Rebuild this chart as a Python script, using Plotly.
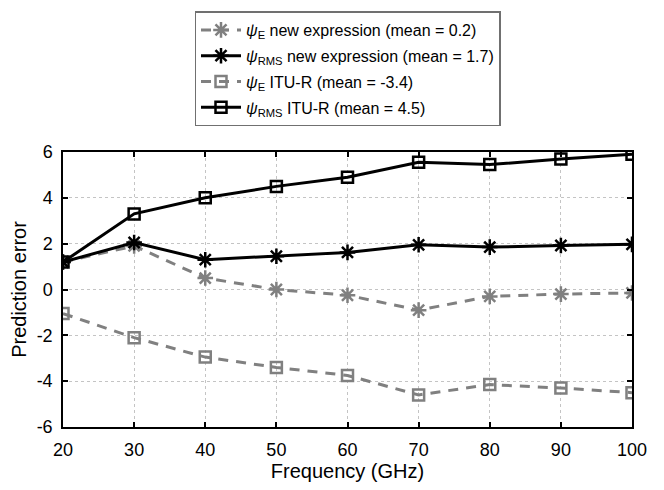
import plotly.graph_objects as go

freq = [20, 30, 40, 50, 60, 70, 80, 90, 100]
psiE_new = [1.2, 1.9, 0.5, 0.0, -0.25, -0.9, -0.3, -0.2, -0.15]
psiRMS_new = [1.2, 2.05, 1.3, 1.45, 1.62, 1.95, 1.85, 1.92, 1.97]
psiE_itu = [-1.05, -2.1, -2.95, -3.4, -3.75, -4.6, -4.15, -4.3, -4.5]
psiRMS_itu = [1.2, 3.3, 4.0, 4.5, 4.9, 5.55, 5.45, 5.7, 5.9]
yticks = [-6, -4, -2, 0, 2, 4, 6]

names = [
    "<i>\u03c8</i><sub>E</sub> new expression (mean = 0.2)",
    "<i>\u03c8</i><sub>RMS</sub> new expression (mean = 1.7)",
    "<i>\u03c8</i><sub>E</sub> ITU-R (mean = -3.4)",
    "<i>\u03c8</i><sub>RMS</sub> ITU-R (mean = 4.5)",
]

FONT = "Liberation Sans, Arial, sans-serif"
gray = "#808080"
black = "#000000"

fig = go.Figure()
series = [
    (psiE_new, names[0], gray, "10px,8px", "asterisk-open", 13),
    (psiRMS_new, names[1], black, "solid", "asterisk-open", 13),
    (psiE_itu, names[2], gray, "10px,8px", "square-open", 11),
    (psiRMS_itu, names[3], black, "solid", "square-open", 11),
]
for i, (ys, nm, col, dash, sym, sz) in enumerate(series):
    fig.add_trace(go.Scatter(
        x=freq, y=ys, name=nm, mode="lines+markers", legendgroup=str(i),
        line=dict(color=col, width=3, dash=dash),
        marker=dict(symbol=sym, size=sz, color=col, line=dict(color=col, width=2.5)),
    ))

axis_common = dict(
    showline=True, linecolor="black", linewidth=1.5, mirror="allticks",
    ticks="inside", ticklen=5, tickwidth=1.5, tickcolor="black",
    showgrid=True, gridcolor="#c4c4c4", griddash="dot", gridwidth=1,
    zeroline=False,
    tickfont=dict(family=FONT, size=18, color="black"),
)

fig.update_xaxes(range=[20, 100], tickvals=freq, ticktext=[str(f) for f in freq],
                 ticklabelstandoff=6,
                 title=dict(text="Frequency (GHz)", font=dict(size=20, family=FONT, color="black"), standoff=4),
                 **axis_common)
fig.update_yaxes(range=[-6, 6], tickvals=yticks, ticktext=[str(v) for v in yticks],
                 ticklabelstandoff=5,
                 title=dict(text="Prediction error", font=dict(size=20, family=FONT, color="black"), standoff=5),
                 **axis_common)

fig.update_layout(
    width=664, height=490,
    margin=dict(l=63, r=32, t=150, b=60),
    plot_bgcolor="white", paper_bgcolor="white",
    font=dict(family=FONT, color="black"),
    legend=dict(
        x=0.5, y=1.511, xanchor="center", yanchor="top",
        bordercolor="#707070", borderwidth=1.5, bgcolor="white",
        font=dict(size=16, family=FONT, color="black"),
        tracegroupgap=2, itemwidth=40,
    ),
)

fig.write_html("out.html")
